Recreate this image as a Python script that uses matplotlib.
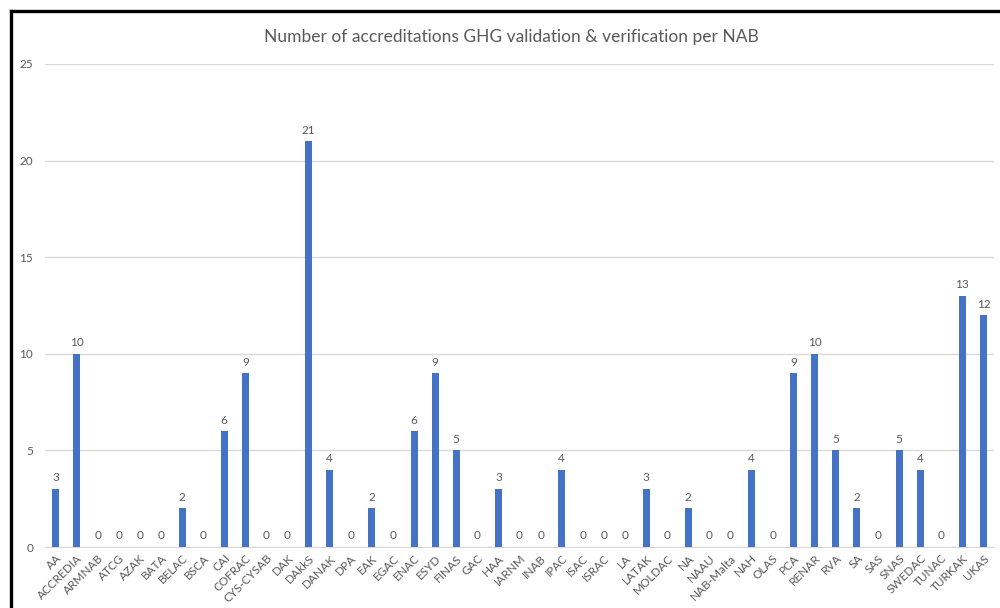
import numpy as np
import matplotlib.pyplot as plt
from matplotlib.lines import Line2D

# Accreditation bodies and their GHG validation/verification accreditation counts
nabs = ["AA", "ACCREDIA", "ARMNAB", "ATCG", "AZAK", "BATA", "BELAC", "BSCA", "CAI",
        "COFRAC", "CYS-CYSAB", "DAK", "DAkkS", "DANAK", "DPA", "EAK", "EGAC", "ENAC",
        "ESYD", "FINAS", "GAC", "HAA", "IARNM", "INAB", "IPAC", "ISAC", "ISRAC", "LA",
        "LATAK", "MOLDAC", "NA", "NAAU", "NAB-Malta", "NAH", "OLAS", "PCA", "RENAR",
        "RVA", "SA", "SAS", "SNAS", "SWEDAC", "TUNAC", "TURKAK", "UKAS"]
counts = [3, 10, 0, 0, 0, 0, 2, 0, 6, 9, 0, 0, 21, 4, 0, 2, 0, 6, 9, 5, 0, 3, 0, 0,
          4, 0, 0, 0, 3, 0, 2, 0, 0, 4, 0, 9, 10, 5, 2, 0, 5, 4, 0, 13, 12]
yticks = [0, 5, 10, 15, 20, 25]

plt.rcParams['font.family'] = ['Lato', 'DejaVu Sans']
grey = "#595959"

fig = plt.figure(figsize=(10, 6.08), dpi=100)
ax = fig.add_axes([0.045, 1 - 547 / 608, 0.949, (547 - 64) / 608])

x = np.arange(len(nabs))
ax.bar(x, counts, width=0.33, color="#4472C4", zorder=3)
for xi, c in zip(x, counts):
    ax.annotate(str(c), (xi, c), xytext=(0, 4), textcoords="offset points",
                ha="center", va="bottom", fontsize=8.5, color=grey)

ax.set_xlim(-0.5, len(nabs) - 0.5)
ax.set_ylim(0, 25)
ax.set_yticks(yticks)
ax.set_xticks(x)
ax.set_xticklabels(nabs, rotation=45, ha="right", rotation_mode="anchor",
                   fontsize=8.5, color=grey)
ax.tick_params(axis="y", labelsize=8.5, labelcolor=grey, length=0, pad=8.5)
ax.tick_params(axis="x", length=0, pad=4)
ax.grid(axis="y", color="#D9D9D9", linewidth=1, zorder=0)
for s in ["top", "right", "left"]:
    ax.spines[s].set_visible(False)
ax.spines["bottom"].set_color("#D9D9D9")

fig.text(0.511, 1 - 37 / 608, "Number of accreditations GHG validation & verification per NAB",
         ha="center", va="center", fontsize=12.5, color=grey)

# black screenshot frame (left and top edges)
fig.add_artist(Line2D([0.0105, 0.0105], [0, 1 - 11 / 608], color="black", linewidth=2.4,
                      transform=fig.transFigure))
fig.add_artist(Line2D([0.0105, 1.0], [1 - 11 / 608, 1 - 11 / 608], color="black", linewidth=2.4,
                      transform=fig.transFigure))

fig.savefig("out.png", dpi=100)
